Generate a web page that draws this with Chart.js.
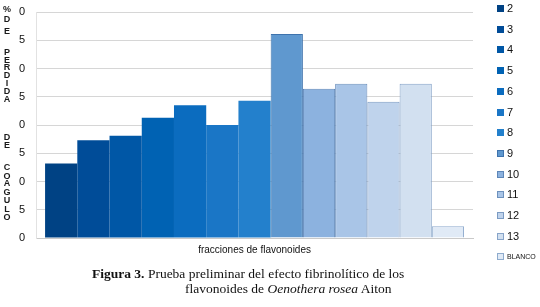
<!DOCTYPE html>
<html lang="es">
  <head>
    <meta charset="UTF-8" />
    <title>Figura 3</title>
    <script src="https://cdn.jsdelivr.net/npm/chart.js"></script>
    <style>
      html, body { margin: 0; padding: 0; background: #fff; }
      #wrap { position: relative; width: 540px; height: 307px; overflow: hidden; }
      #chart { position: absolute; left: 0; top: 0; }
      #legend { position: absolute; left: 497px; top: 0; font-family: "Liberation Sans", Arial, sans-serif; }
      .item { position: absolute; left: 0; white-space: nowrap; height: 10px; }
      .box { position: absolute; left: 0; top: 1px; width: 7px; height: 7px; box-sizing: border-box; }
      .txt { position: absolute; left: 10px; top: -2px; font-size: 11px; line-height: 13px; color: #111; }
      .small { font-size: 7px; top: 1px; line-height: 8px; }
      .cap { position: absolute; font-family: "Liberation Serif", "Times New Roman", serif; font-size: 13.5px; color: #111; white-space: nowrap; }
    </style>
  </head>
  <body>
    <div id="wrap">
      <canvas id="chart" width="540" height="307"></canvas>
      <div id="legend"></div>
      <div class="cap" style="left: 92px; top: 266px;"><b>Figura 3.</b> Prueba preliminar del efecto fibrinolítico de los</div>
      <div class="cap" style="left: 185px; top: 281px;">flavonoides de <i>Oenothera rosea</i> Aiton</div>
    </div>

    <script>
      // data
      const categories = ["fracciones de flavonoides"];
      const fractions = ["2", "3", "4", "5", "6", "7", "8", "9", "10", "11", "12", "13", "BLANCO"];
      const lossValues = [13.2, 17.3, 18.1, 21.3, 23.5, 20.0, 24.3, 36.1, 26.4, 27.3, 24.1, 27.3, 2.1];
      const yTickLabels = ["0", "5", "0", "5", "0", "5", "0", "5", "0"];

      const fillColors = [
        "#004284", "#004c98", "#0057a6", "#0062b3", "#0b6cbf", "#1a76c6", "#2380cc",
        "#5f98cf", "#8cb2df", "#a9c5e7", "#bfd3ec", "#d2e0f0", "#e0eaf6",
      ];
      const edgeColors = [
        null, null, null, null, null, null, null,
        "#3e73ad", "#5d86b8", "#6d91bd", "#7b9bc3", "#87a4c9", "#8eabcd",
      ];

      // y title, letters stacked upright
      const yTitle = [
        ["%", 10], ["D", 20], ["E", 32],
        ["P", 53], ["E", 61], ["R", 68], ["D", 76], ["I", 84], ["D", 92], ["A", 100],
        ["D", 138], ["E", 146],
        ["C", 168], ["O", 177], ["A", 184], ["G", 193], ["U", 201], ["L", 210], ["O", 218],
      ];

      const stackedTitle = {
        id: "stackedTitle",
        afterDraw(chart) {
          const ctx = chart.ctx;
          ctx.save();
          ctx.font = "bold 9px 'Liberation Sans', Arial, sans-serif";
          ctx.fillStyle = "#1a1a1a";
          ctx.textAlign = "center";
          ctx.textBaseline = "middle";
          yTitle.forEach(([ch, y]) => ctx.fillText(ch, 7, y));
          ctx.restore();
        },
      };

      const datasets = fractions.map((name, i) => ({
        label: name,
        data: [lossValues[i]],
        backgroundColor: fillColors[i],
        borderColor: edgeColors[i] || fillColors[i],
        borderWidth: edgeColors[i] ? 1 : 0,
        categoryPercentage: 0.959,
        barPercentage: 1.0,
      }));

      const chart = new Chart(document.getElementById("chart"), {
        type: "bar",
        data: { labels: categories, datasets: datasets },
        options: {
          responsive: false,
          animation: false,
          layout: { padding: { left: 8, right: 67, top: 12, bottom: 45 } },
          plugins: { legend: { display: false }, tooltip: { enabled: false } },
          scales: {
            x: {
              grid: { display: false, drawTicks: false },
              border: { display: true, color: "#c9c9c9", width: 1 },
              ticks: {
                padding: 6,
                color: "#111",
                font: { family: "'Liberation Sans', Arial, sans-serif", size: 10 },
              },
            },
            y: {
              min: 0,
              max: 40,
              grid: { color: "#d6d6d6", lineWidth: 1, drawTicks: false },
              border: { display: true, color: "#e2e2e2" },
              ticks: {
                stepSize: 5,
                padding: 11,
                color: "#111",
                font: { family: "'Liberation Sans', Arial, sans-serif", size: 11 },
                callback: (v, i) => yTickLabels[i],
              },
              afterFit(scale) {
                // keep the tick gap from pushing the plot down
                scale.paddingTop = 6;
              },
            },
          },
        },
        plugins: [stackedTitle],
      });

      // legend built from the datasets
      const legend = document.getElementById("legend");
      chart.data.datasets.forEach((ds, i) => {
        const item = document.createElement("div");
        item.className = "item";
        item.style.top = (4 + i * 20.7) + "px";
        const box = document.createElement("span");
        box.className = "box";
        box.style.background = ds.backgroundColor;
        if (edgeColors[i]) box.style.border = "1px solid " + edgeColors[i];
        const txt = document.createElement("span");
        txt.className = ds.label.length > 3 ? "txt small" : "txt";
        txt.textContent = ds.label;
        item.appendChild(box);
        item.appendChild(txt);
        legend.appendChild(item);
      });
    </script>
  </body>
</html>
